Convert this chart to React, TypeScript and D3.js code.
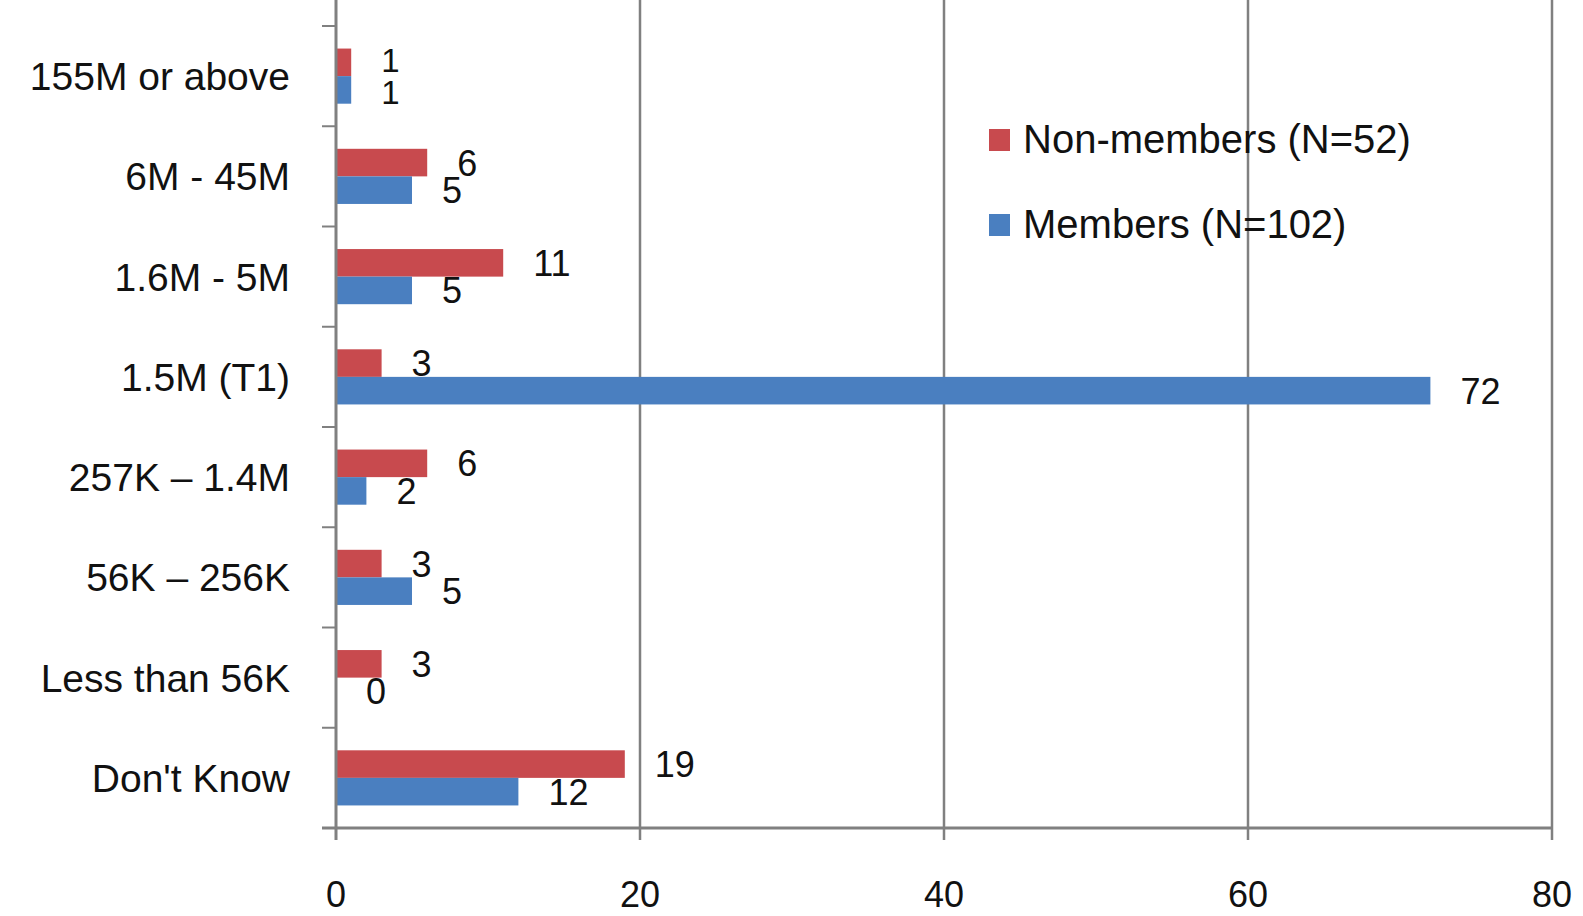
import React from 'react';
import * as d3 from 'd3';

// categories, top to bottom
const categories = [
  '155M or above',
  '6M - 45M',
  '1.6M - 5M',
  '1.5M (T1)',
  '257K \u2013 1.4M',
  '56K \u2013 256K',
  'Less than 56K',
  "Don't Know",
];
const nonMembers = [1, 6, 11, 3, 6, 3, 3, 19];
const members = [1, 5, 5, 72, 2, 5, 0, 12];
const xTicks = [0, 20, 40, 60, 80];
const seriesNames = ['Non-members (N=52)', 'Members (N=102)'];
const seriesColors = ['#C84A4E', '#4A7FC0'];

const width = 1583;
const height = 916;
const font = '"Liberation Sans", Arial, sans-serif';

function App() {
  // plot area
  const left = 336;
  const right = 1552;
  const top = 26;
  const bottom = 828;

  const x = d3.scaleLinear().domain([0, 80]).range([left, right]);
  const y = d3.scaleBand<string>()
    .domain(categories)
    .range([top, bottom])
    .paddingInner(0.45)
    .paddingOuter(0.225);
  const sub = d3.scaleBand<number>().domain([0, 1]).range([0, y.bandwidth()]);

  const step = y.step();
  const values = [nonMembers, members];

  return (
    <svg width={width} height={height} style={{ position: 'absolute', left: 0, top: 0, background: '#fff' }}>
      {/* vertical gridlines */}
      {xTicks.slice(1).map(t => (
        <line key={'g' + t} x1={x(t)} x2={x(t)} y1={0} y2={bottom + 12} stroke="#808080" strokeWidth={2.5} />
      ))}

      {/* bars */}
      {categories.map((c, i) => (
        <g key={c}>
          {values.map((vals, s) => (
            <rect
              key={s}
              x={x(0)}
              y={(y(c) as number) + (sub(s) as number)}
              width={x(vals[i]) - x(0)}
              height={sub.bandwidth()}
              fill={seriesColors[s]}
            />
          ))}
        </g>
      ))}

      {/* axes */}
      <line x1={left} x2={left} y1={0} y2={bottom + 12} stroke="#808080" strokeWidth={3} />
      <line x1={left - 14} x2={right} y1={bottom} y2={bottom} stroke="#808080" strokeWidth={3} />
      {categories.map((c, i) => (
        <line key={'t' + i} x1={left - 14} x2={left} y1={top + step * i} y2={top + step * i} stroke="#808080" strokeWidth={2} />
      ))}

      {/* value labels */}
      {categories.map((c, i) =>
        values.map((vals, s) => (
          <text
            key={c + s}
            x={x(vals[i]) + 30}
            y={(y(c) as number) + (sub(s) as number) + sub.bandwidth() / 2 + (i === 0 ? (s === 0 ? -2 : 2) : 0)}
            dy="0.36em"
            fontFamily={font}
            fontSize={i === 0 ? 33 : 36}
            fill="#111"
          >
            {vals[i]}
          </text>
        ))
      )}

      {/* category labels */}
      {categories.map(c => (
        <text
          key={'l' + c}
          x={290}
          y={(y(c) as number) + y.bandwidth() / 2}
          dy="0.36em"
          textAnchor="end"
          fontFamily={font}
          fontSize={39}
          fill="#111"
        >
          {c}
        </text>
      ))}

      {/* x tick labels */}
      {xTicks.map(t => (
        <text key={'x' + t} x={x(t)} y={907} textAnchor="middle" fontFamily={font} fontSize={36} fill="#111">
          {t}
        </text>
      ))}

      {/* legend */}
      {seriesNames.map((n, s) => (
        <g key={n} transform={`translate(989, ${129 + s * 85})`}>
          <rect x={0} y={0} width={21} height={22} fill={seriesColors[s]} />
          <text x={34} y={24} fontFamily={font} fontSize={40} fill="#111">
            {n}
          </text>
        </g>
      ))}
    </svg>
  );
}

export default App;
